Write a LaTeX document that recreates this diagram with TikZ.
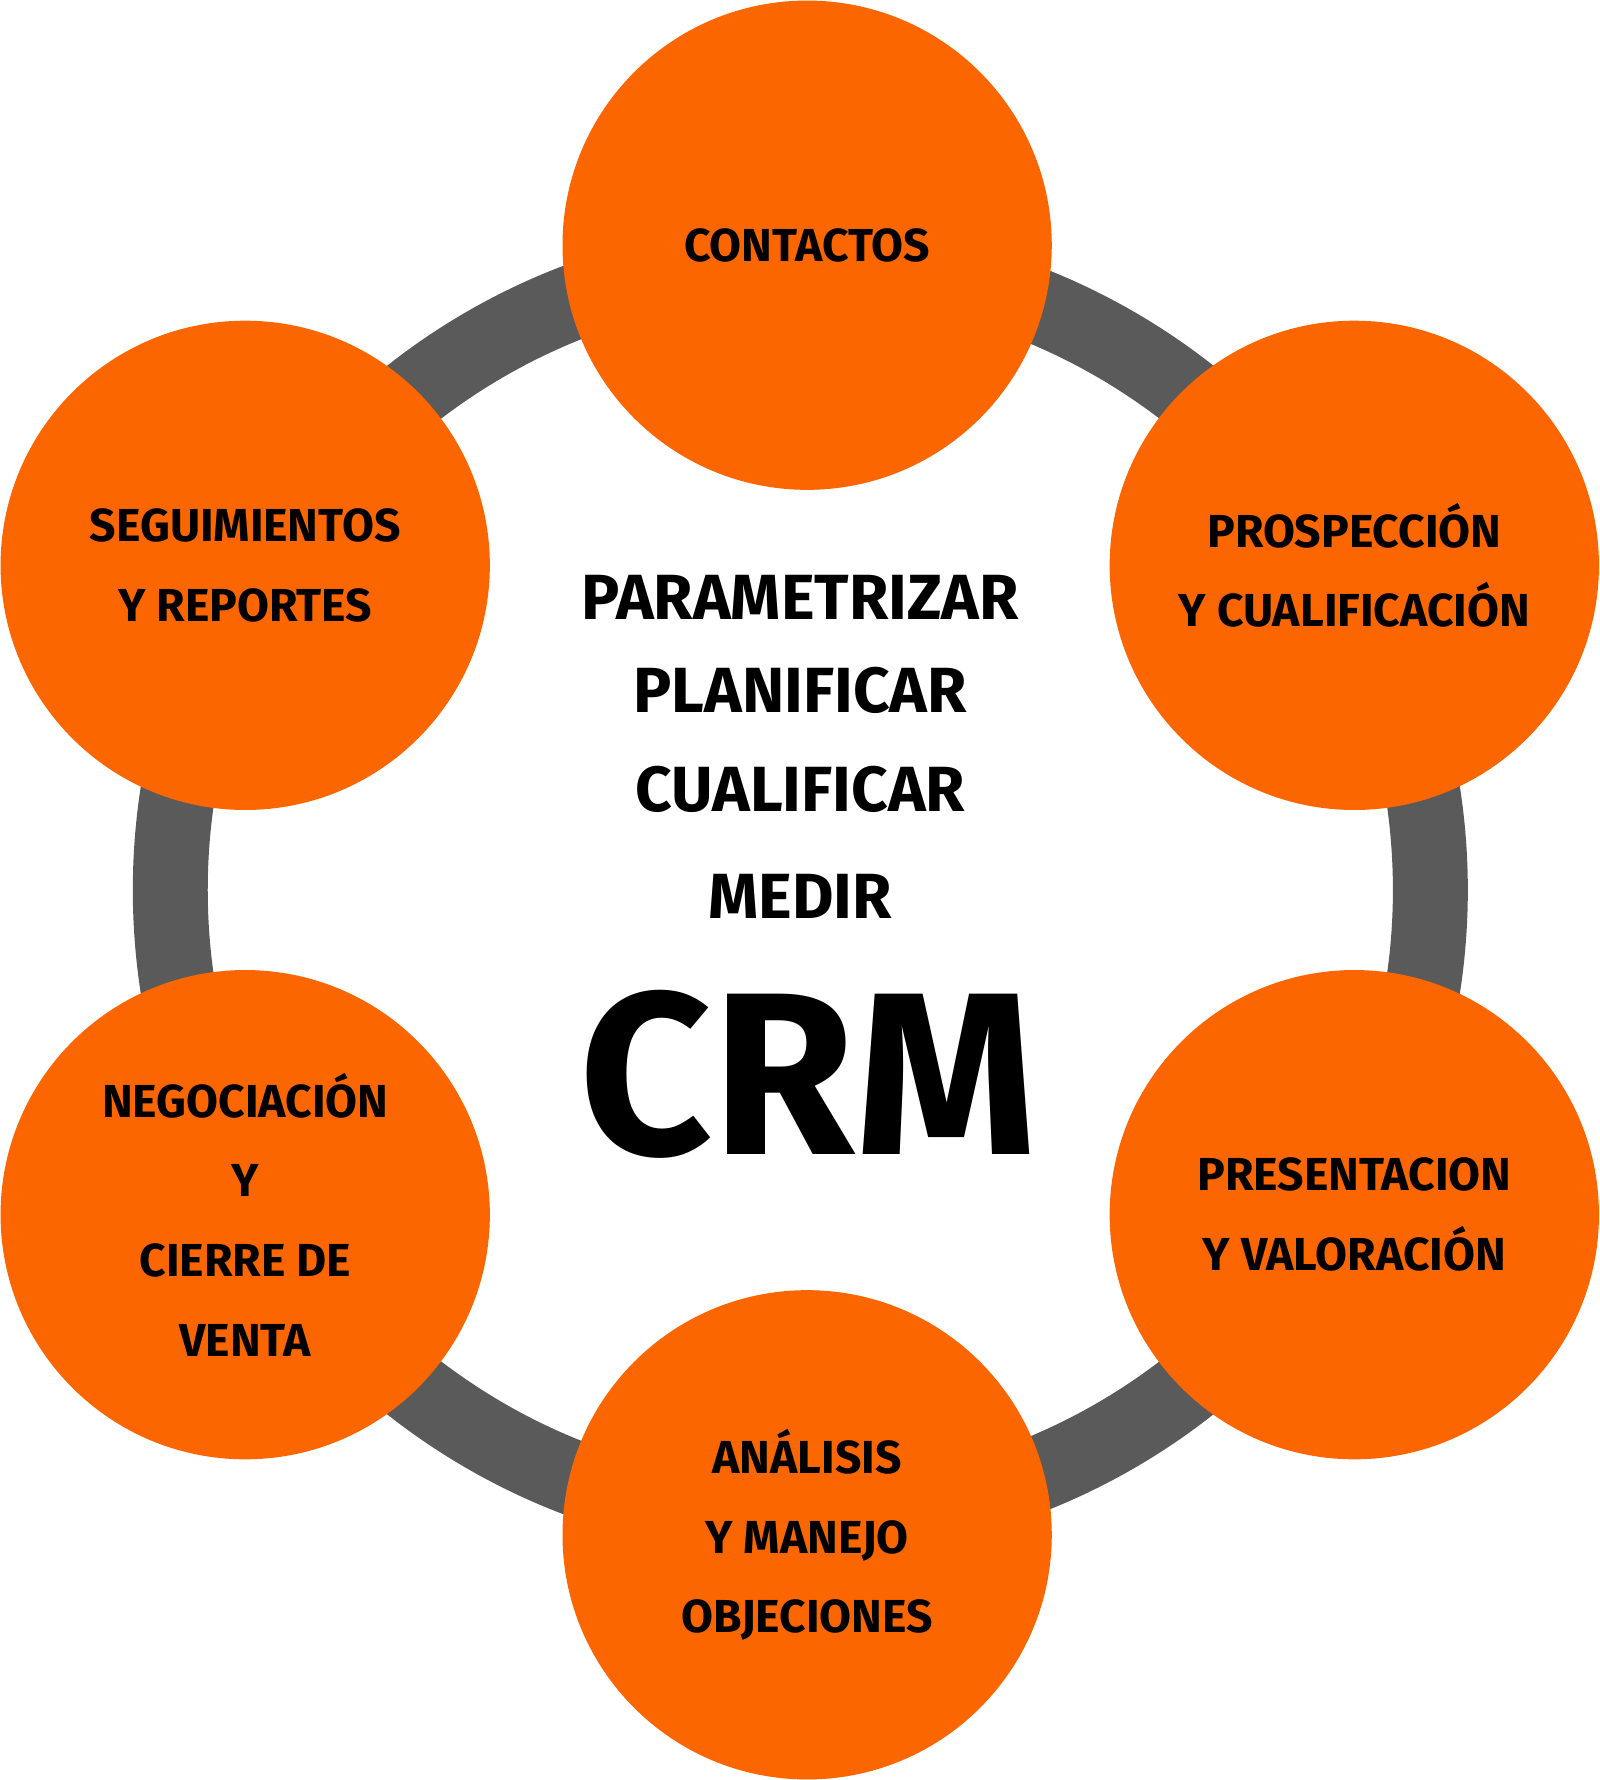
\documentclass[tikz,border=0pt]{standalone}
\usepackage{fontspec}
\setmainfont{Fira Sans}
\definecolor{org}{HTML}{FC6600}
\definecolor{ring}{HTML}{5A5A5A}
\begin{document}
\begin{tikzpicture}[x=0.05cm,y=-0.05cm,
  stage/.style={circle,fill=org,minimum size=431*0.05cm,inner sep=0pt,align=center,font=\fontsize{58}{100}\selectfont\bfseries},
  mid/.style={font=\fontsize{80}{96}\selectfont\bfseries}]
\useasboundingbox (0,0) rectangle (1409,1568);
\draw[ring,line width=66*0.05cm] (705,784) circle (555*0.05cm);
\node[stage] (c1) at (711,216) {CONTACTOS};
\node[stage] (c2) at (1193,498) {PROSPECCIÓN\\Y CUALIFICACIÓN};
\node[stage] (c3) at (1193,1070) {PRESENTACION\\Y VALORACIÓN};
\node[stage] (c4) at (711,1352) {ANÁLISIS\\Y MANEJO\\OBJECIONES};
\node[stage] (c5) at (216,1070) {NEGOCIACIÓN\\Y\\CIERRE DE\\VENTA};
\node[stage] (c6) at (216,498) {SEGUIMIENTOS\\Y REPORTES};
\node[mid] (t1) at (705,526) {PARAMETRIZAR};
\node[mid] (t2) at (705,608) {PLANIFICAR};
\node[mid] (t3) at (705,695) {CUALIFICAR};
\node[mid] (t4) at (705,790) {MEDIR};
\node[font=\fontsize{290}{300}\selectfont\bfseries] (crm) at (712,946) {CRM};
\end{tikzpicture}
\end{document}
